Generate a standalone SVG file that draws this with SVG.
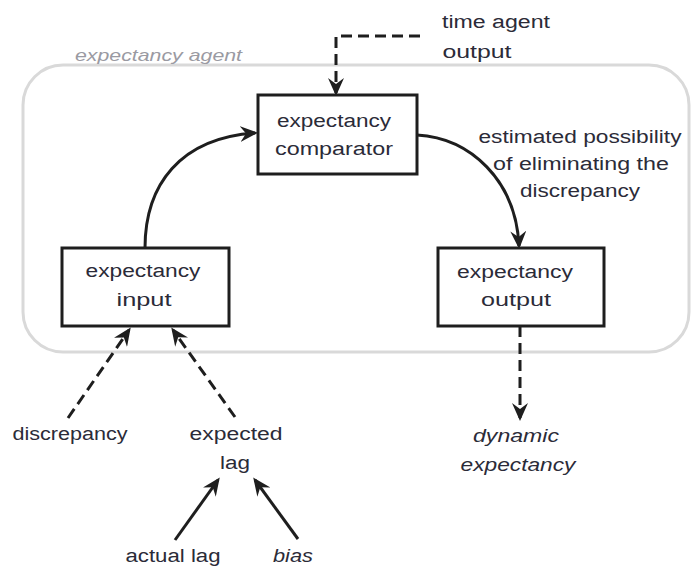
<svg xmlns="http://www.w3.org/2000/svg" width="692" height="567" viewBox="0 0 692 567">
  <style>
    text { font-family: "Liberation Sans", "DejaVu Sans", sans-serif; font-size: 18px; fill: #2b2b38; text-anchor: middle; }
    .it { font-style: italic; }
    .agent { fill: #9a9aa2; font-style: italic; font-size: 17px; text-anchor: start; }
    .box { fill: #ffffff; stroke: #1e1e1e; stroke-width: 3; }
    .solid { fill: none; stroke: #1e1e1e; stroke-width: 3; }
    .dash { fill: none; stroke: #1e1e1e; stroke-width: 3; stroke-dasharray: 11 6; }
  </style>
  <defs>
    <marker id="head" markerUnits="userSpaceOnUse" viewBox="0 0 18 16" markerWidth="18" markerHeight="16" refX="15" refY="8" orient="auto">
      <path d="M0,0 L18,8 L0,16 L6,8 z" fill="#1e1e1e"/>
    </marker>
  </defs>

  <!-- agent boundary -->
  <g id="expectancy-agent">
    <rect x="23" y="65" width="666" height="287" rx="40" fill="none" stroke="#d9d9d9" stroke-width="3"/>
    <text class="agent" x="75" y="61" textLength="167" lengthAdjust="spacingAndGlyphs">expectancy agent</text>
  </g>

  <g id="comparator">
    <rect class="box" x="258" y="95" width="159" height="79"/>
    <text x="334" y="127" textLength="114" lengthAdjust="spacingAndGlyphs">expectancy</text>
    <text x="334" y="155" textLength="118" lengthAdjust="spacingAndGlyphs">comparator</text>
  </g>

  <g id="input">
    <rect class="box" x="62" y="248" width="167" height="78"/>
    <text x="143" y="277" textLength="115" lengthAdjust="spacingAndGlyphs">expectancy</text>
    <text x="144" y="306" textLength="55" lengthAdjust="spacingAndGlyphs">input</text>
  </g>

  <g id="output">
    <rect class="box" x="438" y="248" width="166" height="78"/>
    <text x="515" y="278" textLength="116" lengthAdjust="spacingAndGlyphs">expectancy</text>
    <text x="516" y="306" textLength="70" lengthAdjust="spacingAndGlyphs">output</text>
  </g>

  <g id="time-agent-output">
    <text x="496" y="28" textLength="108" lengthAdjust="spacingAndGlyphs">time agent</text>
    <text x="477" y="58" textLength="69" lengthAdjust="spacingAndGlyphs">output</text>
  </g>

  <g id="possibility-label">
    <text x="580" y="143" textLength="203" lengthAdjust="spacingAndGlyphs">estimated possibility</text>
    <text x="581" y="170" textLength="176" lengthAdjust="spacingAndGlyphs">of eliminating the</text>
    <text x="580" y="197" textLength="120" lengthAdjust="spacingAndGlyphs">discrepancy</text>
  </g>

  <g id="dynamic-expectancy">
    <text class="it" x="516" y="442" textLength="86" lengthAdjust="spacingAndGlyphs">dynamic</text>
    <text class="it" x="518" y="471" textLength="115" lengthAdjust="spacingAndGlyphs">expectancy</text>
  </g>

  <g id="discrepancy">
    <text x="70" y="440" textLength="115" lengthAdjust="spacingAndGlyphs">discrepancy</text>
  </g>

  <g id="expected-lag">
    <text x="236" y="440" textLength="93" lengthAdjust="spacingAndGlyphs">expected</text>
    <text x="235" y="469" textLength="30" lengthAdjust="spacingAndGlyphs">lag</text>
  </g>

  <g id="actual-lag">
    <text x="173" y="562" textLength="95" lengthAdjust="spacingAndGlyphs">actual lag</text>
  </g>

  <g id="bias">
    <text class="it" x="293" y="562" textLength="40" lengthAdjust="spacingAndGlyphs">bias</text>
  </g>

  <!-- connectors -->
  <g id="connectors">
    <path class="dash" d="M420,36 L336,36 L336,93" marker-end="url(#head)"/>
    <path class="solid" d="M145,248 C145,185 180,138 255,133" marker-end="url(#head)"/>
    <path class="solid" d="M417,135 C470,138 516,180 519,246" marker-end="url(#head)"/>
    <path class="dash" d="M520,326 L520,418" marker-end="url(#head)"/>
    <path class="dash" d="M68,418 L129,330" marker-end="url(#head)"/>
    <path class="dash" d="M235,417 L173,330" marker-end="url(#head)"/>
    <path class="solid" d="M175,540 L218,480" marker-end="url(#head)"/>
    <path class="solid" d="M298,539 L255,480" marker-end="url(#head)"/>
  </g>
</svg>
